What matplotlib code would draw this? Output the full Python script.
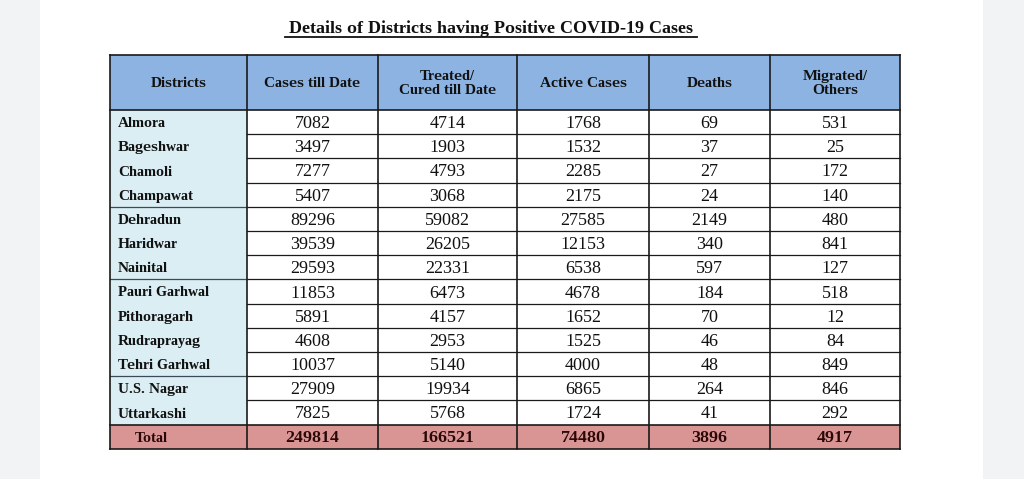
import matplotlib.pyplot as plt
from matplotlib.patches import Rectangle

plt.rcParams["text.hinting"] = "native"
plt.rcParams["text.hinting_factor"] = 1

# --- data ---
title = "Details of Districts having Positive COVID-19 Cases"
headers = ["Districts", "Cases till Date", "Treated/\nCured till Date",
           "Active Cases", "Deaths", "Migrated/\nOthers"]
districts = ["Almora", "Bageshwar", "Chamoli", "Champawat", "Dehradun",
             "Haridwar", "Nainital", "Pauri Garhwal", "Pithoragarh",
             "Rudraprayag", "Tehri Garhwal", "U.S. Nagar", "Uttarkashi"]
cases = [7082, 3497, 7277, 5407, 89296, 39539, 29593, 11853, 5891, 4608, 10037, 27909, 7825]
cured = [4714, 1903, 4793, 3068, 59082, 26205, 22331, 6473, 4157, 2953, 5140, 19934, 5768]
active = [1768, 1532, 2285, 2175, 27585, 12153, 6538, 4678, 1652, 1525, 4000, 6865, 1724]
deaths = [69, 37, 27, 24, 2149, 340, 597, 184, 70, 46, 48, 264, 41]
migrated = [531, 25, 172, 140, 480, 841, 127, 518, 12, 84, 849, 846, 292]
totals = [249814, 166521, 74480, 3896, 4917]
# district rows after which the first column has a divider
group_ends = [3, 6, 10]

# --- layout (pixels) ---
col_edges = [110, 247, 378, 517, 649, 770, 900]
header_top, header_h, row_h = 55, 55, 24.2
serif = "Liberation Serif"

fig = plt.figure(figsize=(10.24, 4.79), dpi=100)
fig.patch.set_facecolor("#f1f3f4")
ax = fig.add_axes([0, 0, 1, 1])
ax.set_xlim(0, 1024)
ax.set_ylim(479, 0)
ax.axis("off")

# white page
ax.add_patch(Rectangle((40, 0), 943, 479, facecolor="white", edgecolor="none"))

ax.text(491, 32.5, title, ha="center", va="baseline", fontsize=13.3,
        fontweight="bold", family=serif, color="#111111")
tw = 412
ax.plot([491 - tw / 2, 491 + tw / 2], [37, 37], color="#111111", lw=1.3)

n = len(districts)
body_top = header_top + header_h
total_top = body_top + n * row_h
bottom = total_top + row_h
left, right = col_edges[0], col_edges[-1]

# backgrounds
ax.add_patch(Rectangle((left, header_top), right - left, header_h,
                       facecolor="#8db3e2", edgecolor="none"))
ax.add_patch(Rectangle((left, body_top), col_edges[1] - left, n * row_h,
                       facecolor="#daeef3", edgecolor="none"))
ax.add_patch(Rectangle((left, total_top), right - left, row_h,
                       facecolor="#d99594", edgecolor="none"))

# header text
for j, h in enumerate(headers):
    cx = (col_edges[j] + col_edges[j + 1]) / 2
    ax.text(cx, header_top + header_h / 2 + 1, h, ha="center", va="center",
            fontsize=11, fontweight="bold", family=serif, color="#111111",
            linespacing=1.15)

# body text (baseline-aligned so rows don't jitter)
cols = [cases, cured, active, deaths, migrated]
for i, d in enumerate(districts):
    cy = body_top + (i + 0.5) * row_h
    ax.text(118, cy + 5, d, ha="left", va="baseline", fontsize=11,
            fontweight="bold", family=serif, color="#111111")
    for j, vals in enumerate(cols):
        cx = (col_edges[j + 1] + col_edges[j + 2]) / 2
        ax.text(cx, cy + 6, str(vals[i]), ha="center", va="baseline",
                fontsize=13, family=serif, color="#111111")

cy = total_top + row_h / 2
ax.text(135, cy + 5, "Total", ha="left", va="baseline", fontsize=11,
        fontweight="bold", family=serif, color="#2a0808")
for j, v in enumerate(totals):
    cx = (col_edges[j + 1] + col_edges[j + 2]) / 2
    ax.text(cx, cy + 5.5, str(v), ha="center", va="baseline", fontsize=12.2,
            fontweight="bold", family=serif, color="#2a0808")

# grid lines
line_c = "#1a1a1a"
for i in range(1, n):
    y = body_top + i * row_h
    ax.plot([col_edges[1], right], [y, y], color=line_c, lw=0.9)
for i in group_ends:
    y = body_top + (i + 1) * row_h
    ax.plot([left, col_edges[1]], [y, y], color="#3a4a5a", lw=0.9)
for y in [header_top, body_top, total_top, bottom]:
    ax.plot([left, right], [y, y], color=line_c, lw=1.2)
for x in col_edges:
    ax.plot([x, x], [header_top, bottom], color=line_c, lw=1.2)

fig.savefig("out.png", dpi=100, facecolor=fig.get_facecolor())
